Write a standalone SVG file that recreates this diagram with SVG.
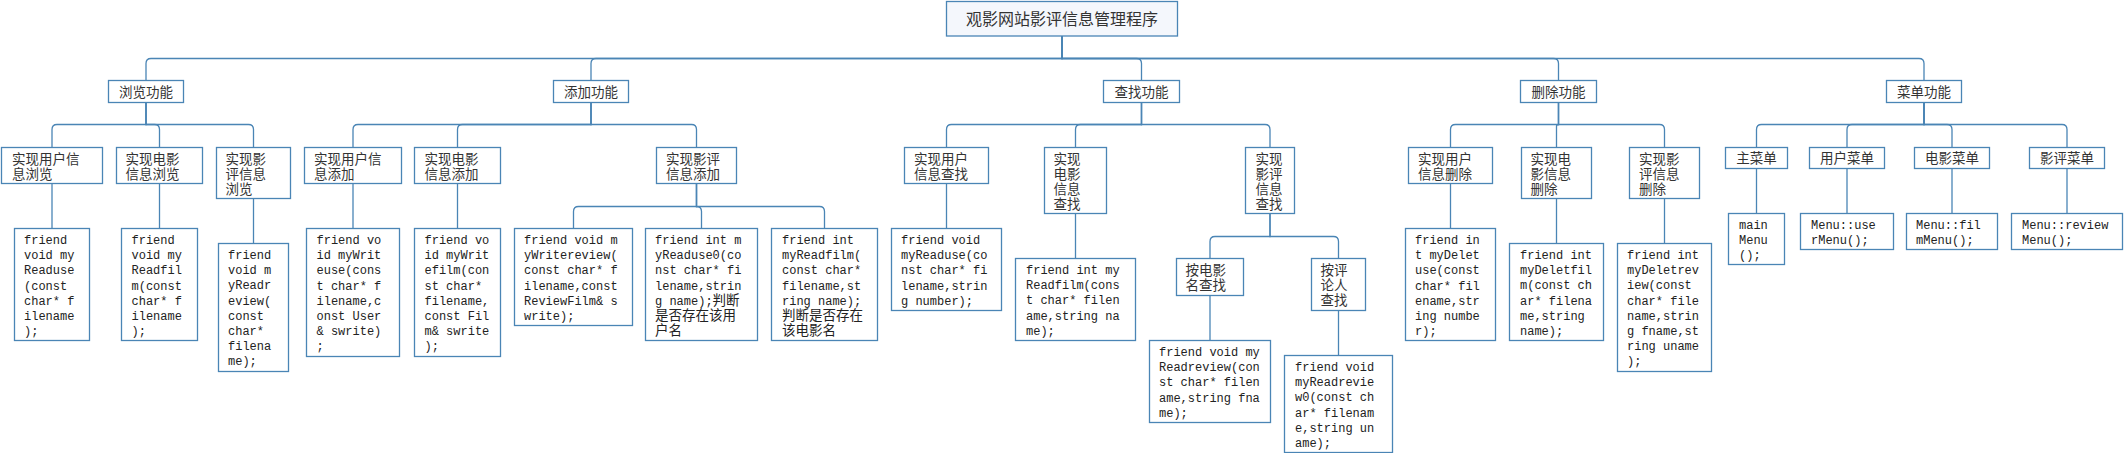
<svg xmlns="http://www.w3.org/2000/svg" width="2124" height="453" viewBox="0 0 2124 453">
<style>
.box{fill:#ffffff;stroke:#4a85b5;stroke-width:1.3}
.root{fill:#f4f7fc;stroke:#4a85b5;stroke-width:1.3}
.conn path{fill:none;stroke:#4a85b5;stroke-width:1.3}
.cn{font-family:"Noto Sans CJK SC","Liberation Sans",sans-serif;font-size:13.5px;fill:#333}
.c{text-anchor:middle}
.title{font-family:"Noto Sans CJK SC","Liberation Sans",sans-serif;font-size:16px;fill:#333;text-anchor:middle}
.code{font-family:"Liberation Mono","Noto Sans CJK SC",monospace;font-size:12px;fill:#222}
.code .z{font-family:"Noto Sans CJK SC",sans-serif;font-size:13.5px}
</style>
<rect width="2124" height="453" fill="#ffffff"/>
<g id="connectors" class="conn">
<path d="M1062 36 V58.5 H151 Q146 58.5 146 63.5 V80.5"/>
<path d="M1062 36 V58.5 H596 Q591 58.5 591 63.5 V80.5"/>
<path d="M1062 36 V58.5 H1136.5 Q1141.5 58.5 1141.5 63.5 V80.5"/>
<path d="M1062 36 V58.5 H1553.5 Q1558.5 58.5 1558.5 63.5 V80.5"/>
<path d="M1062 36 V58.5 H1919 Q1924 58.5 1924 63.5 V80.5"/>
<path d="M146 102.5 V124.5 H57 Q52 124.5 52 129.5 V147.5"/>
<path d="M146 102.5 V124.5 H154.5 Q159.5 124.5 159.5 129.5 V147.5"/>
<path d="M146 102.5 V124.5 H248.5 Q253.5 124.5 253.5 129.5 V147.5"/>
<path d="M591 102.5 V124.5 H358 Q353 124.5 353 129.5 V147.5"/>
<path d="M591 102.5 V124.5 H462.5 Q457.5 124.5 457.5 129.5 V147.5"/>
<path d="M591 102.5 V124.5 H691.5 Q696.5 124.5 696.5 129.5 V147.5"/>
<path d="M1141.5 102.5 V124.5 H951.5 Q946.5 124.5 946.5 129.5 V147.5"/>
<path d="M1141.5 102.5 V124.5 H1080.5 Q1075.5 124.5 1075.5 129.5 V147.5"/>
<path d="M1141.5 102.5 V124.5 H1265 Q1270 124.5 1270 129.5 V147.5"/>
<path d="M1558.5 102.5 V124.5 H1455.5 Q1450.5 124.5 1450.5 129.5 V147.5"/>
<path d="M1558.5 102.5 V124.5 Q1556.5 124.5 1556.5 126.5 V147.5"/>
<path d="M1558.5 102.5 V124.5 H1659.5 Q1664.5 124.5 1664.5 129.5 V147.5"/>
<path d="M1924 102.5 V124.5 H1761.5 Q1756.5 124.5 1756.5 129.5 V147.5"/>
<path d="M1924 102.5 V124.5 H1852 Q1847 124.5 1847 129.5 V147.5"/>
<path d="M1924 102.5 V124.5 H1947 Q1952 124.5 1952 129.5 V147.5"/>
<path d="M1924 102.5 V124.5 H2062 Q2067 124.5 2067 129.5 V147.5"/>
<path d="M52 183.5 V228.5"/>
<path d="M159.5 183.5 V228.5"/>
<path d="M253.5 198.5 V243.5"/>
<path d="M353 183.5 V228.5"/>
<path d="M457.5 183.5 V228.5"/>
<path d="M696.5 183.5 V206.5 H578.5 Q573.5 206.5 573.5 211.5 V228.5"/>
<path d="M696.5 183.5 V206.5 Q701.5 206.5 701.5 211.5 V228.5"/>
<path d="M696.5 183.5 V206.5 H819.5 Q824.5 206.5 824.5 211.5 V228.5"/>
<path d="M946.5 183.5 V228.5"/>
<path d="M1075.5 213.5 V258.5"/>
<path d="M1270 213.5 V236.5 H1215 Q1210 236.5 1210 241.5 V258.5"/>
<path d="M1270 213.5 V236.5 H1333.5 Q1338.5 236.5 1338.5 241.5 V258.5"/>
<path d="M1210 295.5 V340.5"/>
<path d="M1338.5 310.5 V355.5"/>
<path d="M1450.5 183.5 V228.5"/>
<path d="M1556.5 198.5 V243.5"/>
<path d="M1664.5 198.5 V243.5"/>
<path d="M1756.5 168.5 V213.5"/>
<path d="M1847 168.5 V213.5"/>
<path d="M1952 168.5 V213.5"/>
<path d="M2067 168.5 V213.5"/>
</g>
<g id="root"><rect class="root" x="946.5" y="1.5" width="231" height="34.5"/><text class="title" x="1062" y="25">观影网站影评信息管理程序</text></g>
<g id="f1"><rect class="box" x="108.5" y="80.5" width="75" height="22"/><text class="cn c" x="146" y="97">浏览功能</text></g>
<g id="f2"><rect class="box" x="553.5" y="80.5" width="75" height="22"/><text class="cn c" x="591" y="97">添加功能</text></g>
<g id="f3"><rect class="box" x="1103.5" y="80.5" width="76" height="22"/><text class="cn c" x="1141.5" y="97">查找功能</text></g>
<g id="f4"><rect class="box" x="1520.5" y="80.5" width="76" height="22"/><text class="cn c" x="1558.5" y="97">删除功能</text></g>
<g id="f5"><rect class="box" x="1886.5" y="80.5" width="75" height="22"/><text class="cn c" x="1924" y="97">菜单功能</text></g>
<g id="a1"><rect class="box" x="1.5" y="147.5" width="101" height="36"/><text class="cn" x="12" y="163.5">实现用户信<tspan x="12" dy="15">息浏览</tspan></text></g>
<g id="a2"><rect class="box" x="116.5" y="147.5" width="86" height="36"/><text class="cn" x="125.5" y="163.5">实现电影<tspan x="125.5" dy="15">信息浏览</tspan></text></g>
<g id="a3"><rect class="box" x="216.5" y="147.5" width="74" height="51"/><text class="cn" x="225.5" y="163.5">实现影<tspan x="225.5" dy="15">评信息</tspan><tspan x="225.5" dy="15">浏览</tspan></text></g>
<g id="b1"><rect class="box" x="304.5" y="147.5" width="97" height="36"/><text class="cn" x="314" y="163.5">实现用户信<tspan x="314" dy="15">息添加</tspan></text></g>
<g id="b2"><rect class="box" x="414.5" y="147.5" width="86" height="36"/><text class="cn" x="424.5" y="163.5">实现电影<tspan x="424.5" dy="15">信息添加</tspan></text></g>
<g id="b3"><rect class="box" x="656.5" y="147.5" width="80" height="36"/><text class="cn" x="666" y="163.5">实现影评<tspan x="666" dy="15">信息添加</tspan></text></g>
<g id="c1"><rect class="box" x="904.5" y="147.5" width="84" height="36"/><text class="cn" x="914" y="163.5">实现用户<tspan x="914" dy="15">信息查找</tspan></text></g>
<g id="c2"><rect class="box" x="1044.5" y="147.5" width="62" height="66"/><text class="cn" x="1053.5" y="163.5">实现<tspan x="1053.5" dy="15">电影</tspan><tspan x="1053.5" dy="15">信息</tspan><tspan x="1053.5" dy="15">查找</tspan></text></g>
<g id="c3"><rect class="box" x="1245.5" y="147.5" width="49" height="66"/><text class="cn" x="1255.5" y="163.5">实现<tspan x="1255.5" dy="15">影评</tspan><tspan x="1255.5" dy="15">信息</tspan><tspan x="1255.5" dy="15">查找</tspan></text></g>
<g id="d1"><rect class="box" x="1408.5" y="147.5" width="84" height="36"/><text class="cn" x="1418" y="163.5">实现用户<tspan x="1418" dy="15">信息删除</tspan></text></g>
<g id="d2"><rect class="box" x="1521.5" y="147.5" width="70" height="51"/><text class="cn" x="1530.5" y="163.5">实现电<tspan x="1530.5" dy="15">影信息</tspan><tspan x="1530.5" dy="15">删除</tspan></text></g>
<g id="d3"><rect class="box" x="1629.5" y="147.5" width="70" height="51"/><text class="cn" x="1639" y="163.5">实现影<tspan x="1639" dy="15">评信息</tspan><tspan x="1639" dy="15">删除</tspan></text></g>
<g id="e1"><rect class="box" x="1725.5" y="147.5" width="62" height="21"/><text class="cn c" x="1756.5" y="163">主菜单</text></g>
<g id="e2"><rect class="box" x="1809.5" y="147.5" width="75" height="21"/><text class="cn c" x="1847" y="163">用户菜单</text></g>
<g id="e3"><rect class="box" x="1914.5" y="147.5" width="75" height="21"/><text class="cn c" x="1952" y="163">电影菜单</text></g>
<g id="e4"><rect class="box" x="2029.5" y="147.5" width="75" height="21"/><text class="cn c" x="2067" y="163">影评菜单</text></g>
<g id="m1"><rect class="box" x="1176.5" y="258.5" width="67" height="37"/><text class="cn" x="1185.5" y="275">按电影<tspan x="1185.5" dy="15">名查找</tspan></text></g>
<g id="m2"><rect class="box" x="1311.5" y="258.5" width="54" height="52"/><text class="cn" x="1320.5" y="275">按评<tspan x="1320.5" dy="15">论人</tspan><tspan x="1320.5" dy="15">查找</tspan></text></g>
<g id="l1"><rect class="box" x="14.5" y="228.5" width="75" height="112"/><text class="code" x="24" y="244">friend<tspan x="24" dy="15.2">void my</tspan><tspan x="24" dy="15.2">Readuse</tspan><tspan x="24" dy="15.2">(const</tspan><tspan x="24" dy="15.2">char* f</tspan><tspan x="24" dy="15.2">ilename</tspan><tspan x="24" dy="15.2">);</tspan></text></g>
<g id="l2"><rect class="box" x="121.5" y="228.5" width="76" height="112"/><text class="code" x="131.5" y="244">friend<tspan x="131.5" dy="15.2">void my</tspan><tspan x="131.5" dy="15.2">Readfil</tspan><tspan x="131.5" dy="15.2">m(const</tspan><tspan x="131.5" dy="15.2">char* f</tspan><tspan x="131.5" dy="15.2">ilename</tspan><tspan x="131.5" dy="15.2">);</tspan></text></g>
<g id="l3"><rect class="box" x="218.5" y="243.5" width="70" height="128"/><text class="code" x="228" y="259">friend<tspan x="228" dy="15.2">void m</tspan><tspan x="228" dy="15.2">yReadr</tspan><tspan x="228" dy="15.2">eview(</tspan><tspan x="228" dy="15.2">const</tspan><tspan x="228" dy="15.2">char*</tspan><tspan x="228" dy="15.2">filena</tspan><tspan x="228" dy="15.2">me);</tspan></text></g>
<g id="l4"><rect class="box" x="306.5" y="228.5" width="93" height="128"/><text class="code" x="316.5" y="244">friend vo<tspan x="316.5" dy="15.2">id myWrit</tspan><tspan x="316.5" dy="15.2">euse(cons</tspan><tspan x="316.5" dy="15.2">t char* f</tspan><tspan x="316.5" dy="15.2">ilename,c</tspan><tspan x="316.5" dy="15.2">onst User</tspan><tspan x="316.5" dy="15.2">&amp; swrite)</tspan><tspan x="316.5" dy="15.2">;</tspan></text></g>
<g id="l5"><rect class="box" x="414.5" y="228.5" width="86" height="128"/><text class="code" x="424.5" y="244">friend vo<tspan x="424.5" dy="15.2">id myWrit</tspan><tspan x="424.5" dy="15.2">efilm(con</tspan><tspan x="424.5" dy="15.2">st char*</tspan><tspan x="424.5" dy="15.2">filename,</tspan><tspan x="424.5" dy="15.2">const Fil</tspan><tspan x="424.5" dy="15.2">m&amp; swrite</tspan><tspan x="424.5" dy="15.2">);</tspan></text></g>
<g id="l6"><rect class="box" x="514.5" y="228.5" width="118" height="97"/><text class="code" x="524" y="244">friend void m<tspan x="524" dy="15.2">yWritereview(</tspan><tspan x="524" dy="15.2">const char* f</tspan><tspan x="524" dy="15.2">ilename,const</tspan><tspan x="524" dy="15.2">ReviewFilm&amp; s</tspan><tspan x="524" dy="15.2">write);</tspan></text></g>
<g id="l7"><rect class="box" x="645.5" y="228.5" width="112" height="112"/><text class="code" x="655" y="244">friend int m<tspan x="655" dy="15.2">yReaduse0(co</tspan><tspan x="655" dy="15.2">nst char* fi</tspan><tspan x="655" dy="15.2">lename,strin</tspan><tspan x="655" dy="15.2">g name);<tspan class="z">判断</tspan></tspan><tspan class="z" x="655" dy="15.2">是否存在该用</tspan><tspan class="z" x="655" dy="15.2">户名</tspan></text></g>
<g id="l8"><rect class="box" x="771.5" y="228.5" width="106" height="112"/><text class="code" x="782" y="244">friend int<tspan x="782" dy="15.2">myReadfilm(</tspan><tspan x="782" dy="15.2">const char*</tspan><tspan x="782" dy="15.2">filename,st</tspan><tspan x="782" dy="15.2">ring name);</tspan><tspan class="z" x="782" dy="15.2">判断是否存在</tspan><tspan class="z" x="782" dy="15.2">该电影名</tspan></text></g>
<g id="l9"><rect class="box" x="891.5" y="228.5" width="110" height="82"/><text class="code" x="901" y="244">friend void<tspan x="901" dy="15.2">myReaduse(co</tspan><tspan x="901" dy="15.2">nst char* fi</tspan><tspan x="901" dy="15.2">lename,strin</tspan><tspan x="901" dy="15.2">g number);</tspan></text></g>
<g id="l10"><rect class="box" x="1015.5" y="258.5" width="120" height="82"/><text class="code" x="1026" y="274">friend int my<tspan x="1026" dy="15.2">Readfilm(cons</tspan><tspan x="1026" dy="15.2">t char* filen</tspan><tspan x="1026" dy="15.2">ame,string na</tspan><tspan x="1026" dy="15.2">me);</tspan></text></g>
<g id="l11"><rect class="box" x="1149.5" y="340.5" width="121" height="82"/><text class="code" x="1159" y="356">friend void my<tspan x="1159" dy="15.2">Readreview(con</tspan><tspan x="1159" dy="15.2">st char* filen</tspan><tspan x="1159" dy="15.2">ame,string fna</tspan><tspan x="1159" dy="15.2">me);</tspan></text></g>
<g id="l12"><rect class="box" x="1284.5" y="355.5" width="108" height="97"/><text class="code" x="1295" y="371">friend void<tspan x="1295" dy="15.2">myReadrevie</tspan><tspan x="1295" dy="15.2">w0(const ch</tspan><tspan x="1295" dy="15.2">ar* filenam</tspan><tspan x="1295" dy="15.2">e,string un</tspan><tspan x="1295" dy="15.2">ame);</tspan></text></g>
<g id="l13"><rect class="box" x="1405.5" y="228.5" width="90" height="112"/><text class="code" x="1415" y="244">friend in<tspan x="1415" dy="15.2">t myDelet</tspan><tspan x="1415" dy="15.2">use(const</tspan><tspan x="1415" dy="15.2">char* fil</tspan><tspan x="1415" dy="15.2">ename,str</tspan><tspan x="1415" dy="15.2">ing numbe</tspan><tspan x="1415" dy="15.2">r);</tspan></text></g>
<g id="l14"><rect class="box" x="1509.5" y="243.5" width="94" height="97"/><text class="code" x="1520" y="259">friend int<tspan x="1520" dy="15.2">myDeletfil</tspan><tspan x="1520" dy="15.2">m(const ch</tspan><tspan x="1520" dy="15.2">ar* filena</tspan><tspan x="1520" dy="15.2">me,string</tspan><tspan x="1520" dy="15.2">name);</tspan></text></g>
<g id="l15"><rect class="box" x="1617.5" y="243.5" width="94" height="128"/><text class="code" x="1627" y="259">friend int<tspan x="1627" dy="15.2">myDeletrev</tspan><tspan x="1627" dy="15.2">iew(const</tspan><tspan x="1627" dy="15.2">char* file</tspan><tspan x="1627" dy="15.2">name,strin</tspan><tspan x="1627" dy="15.2">g fname,st</tspan><tspan x="1627" dy="15.2">ring uname</tspan><tspan x="1627" dy="15.2">);</tspan></text></g>
<g id="l16"><rect class="box" x="1728.5" y="213.5" width="56" height="51"/><text class="code" x="1739" y="229">main<tspan x="1739" dy="15.2">Menu</tspan><tspan x="1739" dy="15.2">();</tspan></text></g>
<g id="l17"><rect class="box" x="1800.5" y="213.5" width="93" height="36"/><text class="code" x="1811" y="229">Menu::use<tspan x="1811" dy="15.2">rMenu();</tspan></text></g>
<g id="l18"><rect class="box" x="1906.5" y="213.5" width="91" height="36"/><text class="code" x="1916" y="229">Menu::fil<tspan x="1916" dy="15.2">mMenu();</tspan></text></g>
<g id="l19"><rect class="box" x="2011.5" y="213.5" width="111" height="36"/><text class="code" x="2022" y="229">Menu::review<tspan x="2022" dy="15.2">Menu();</tspan></text></g>
</svg>
